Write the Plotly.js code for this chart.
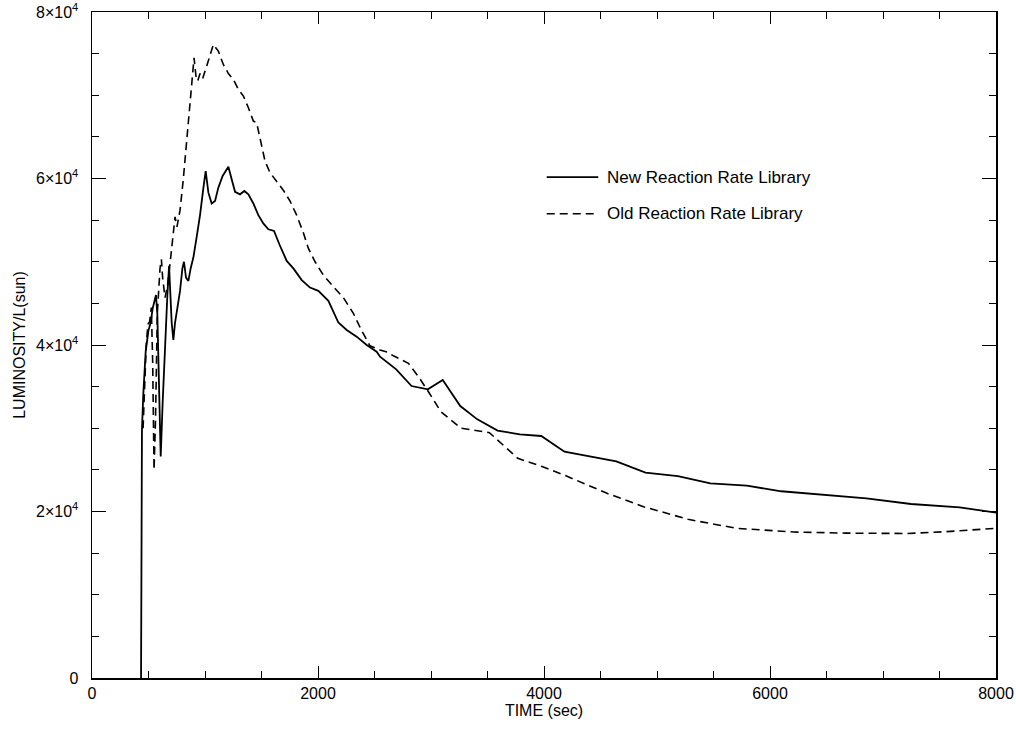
<!DOCTYPE html>
<html>
<head>
<meta charset="utf-8">
<script src="https://cdn.plot.ly/plotly-3.0.1.min.js"></script>
<style>html,body{margin:0;padding:0;background:#fff}#chart{width:1016px;height:729px}</style>
</head>
<body>
<div id="chart"></div>
<script>
// New Reaction Rate Library (solid)
const newTime = [434,435,442,454,475,499,519,537,566,578,596,608,625,646,667,682,690,705,720,735,755,779,800,814,832,853,873,897,926,956,986,1006,1030,1059,1089,1118,1156,1207,1236,1266,1310,1348,1384,1428,1472,1516,1561,1611,1658,1723,1782,1856,1929,2003,2092,2180,2254,2342,2431,2519,2549,2692,2828,2972,3104,3259,3410,3589,3786,3976,4181,4414,4640,4898,5185,5472,5795,6100,6423,6853,7248,7678,8000];
const newLum  = [0,15000,29800,34100,39200,41700,42700,44400,46000,43800,33000,26600,33000,40600,46000,49500,47000,42700,40600,42700,44400,46500,49200,50000,48100,47700,49200,50500,52950,55600,58900,60900,58300,57000,57300,58900,60300,61400,59900,58400,58100,58500,58100,57000,55600,54600,53900,53700,52100,50100,49200,47800,46900,46500,45300,42700,41800,41000,40000,39200,38600,37080,35070,34680,35800,32670,31070,29710,29270,29070,27190,26590,26030,24660,24260,23390,23100,22430,22100,21580,20900,20500,19860];

// Old Reaction Rate Library (dashed)
const oldTime = [452,466,480,495,510,525,537,549,562,578,602,614,625,646,667,690,720,735,752,779,808,838,867,888,903,920,935,956,979,1015,1074,1118,1162,1207,1251,1295,1340,1384,1428,1457,1502,1531,1575,1634,1693,1752,1811,1870,1915,1974,2047,2136,2224,2313,2387,2460,2549,2602,2667,2800,2889,2972,3087,3266,3517,3768,3983,4199,4558,4880,5274,5705,6208,6674,7212,7535,8000];
const oldLum  = [30000,36500,40000,42500,42800,44500,38000,25000,31000,43800,49200,50300,48100,45700,47000,49700,53500,55400,54200,56200,59900,64800,69600,72800,74500,72300,71700,72600,72000,73500,76100,75300,73700,72600,71900,70700,69900,68500,66900,66700,63700,62100,60700,59700,58600,57300,55600,53500,51600,50000,48400,47000,45700,43800,41700,39900,39400,39200,38700,37800,36200,34500,32000,30000,29470,26390,25400,24260,22180,20580,19060,17980,17540,17400,17360,17560,17980];

const xTickVals = [0,2000,4000,6000,8000];
const xTickText = ['0','2000','4000','6000','8000'];
const yTickVals = [0,20000,40000,60000,80000];
const yTickText = ['0','2×10<sup>4</sup>','4×10<sup>4</sup>','6×10<sup>4</sup>','8×10<sup>4</sup>'];
const seriesNames = ['New Reaction Rate Library','Old Reaction Rate Library'];

const traces = [
  {x:newTime, y:newLum, mode:'lines', name:seriesNames[0], line:{color:'#000', width:1.8, dash:'solid'}, showlegend:false},
  {x:oldTime, y:oldLum, mode:'lines', name:seriesNames[1], line:{color:'#000', width:1.6, dash:'8px,5px'}, showlegend:false}
];

const layout = {
  width:1016, height:729,
  margin:{l:92, r:20, t:12, b:51},
  paper_bgcolor:'#fff', plot_bgcolor:'#fff',
  font:{family:'Liberation Sans, Arial', color:'#000'},
  xaxis:{
    range:[0,8000], showgrid:false, zeroline:false,
    showline:true, linecolor:'#000', linewidth:1.5, mirror:'ticks',
    ticks:'inside', ticklen:12, tickwidth:1, tickcolor:'#000',
    tickvals:xTickVals, ticktext:xTickText,
    tickfont:{family:'Liberation Sans, Arial', size:16, color:'#000'},
    minor:{dtick:500, tick0:0, ticks:'inside', ticklen:7, tickwidth:1, tickcolor:'#000'},
    title:{text:'TIME (sec)', font:{family:'Liberation Sans, Arial', size:16, color:'#000'}, standoff:2}
  },
  yaxis:{
    range:[0,80000], showgrid:false, zeroline:false,
    showline:true, linecolor:'#000', linewidth:1.5, mirror:'ticks',
    ticks:'inside', ticklen:14, tickwidth:1, tickcolor:'#000',
    tickvals:yTickVals, ticktext:yTickText, ticklabelstandoff:9,
    ticklabeloverflow:'allow',
    tickfont:{family:'Liberation Sans, Arial', size:16, color:'#000'},
    minor:{dtick:5000, tick0:0, ticks:'inside', ticklen:7, tickwidth:1, tickcolor:'#000'},
    title:{text:'LUMINOSITY/L(sun)', font:{family:'Liberation Sans, Arial', size:16, color:'#000'}, standoff:6}
  },
  shapes:[
    {type:'line', xref:'paper', yref:'paper', x0:0.503, x1:0.560, y0:0.752, y1:0.752, line:{color:'#000', width:1.8}},
    {type:'line', xref:'paper', yref:'paper', x0:0.503, x1:0.560, y0:0.697, y1:0.697, line:{color:'#000', width:1.6, dash:'8px,5px'}}
  ],
  annotations:[
    {xref:'paper', yref:'paper', x:0.568, y:0.752, xanchor:'left', yanchor:'middle', showarrow:false, text:seriesNames[0], font:{family:'Liberation Sans, Arial', size:17, color:'#000'}},
    {xref:'paper', yref:'paper', x:0.568, y:0.697, xanchor:'left', yanchor:'middle', showarrow:false, text:seriesNames[1], font:{family:'Liberation Sans, Arial', size:17, color:'#000'}}
  ]
};

Plotly.newPlot('chart', traces, layout, {staticPlot:true, displayModeBar:false});
</script>
</body>
</html>
